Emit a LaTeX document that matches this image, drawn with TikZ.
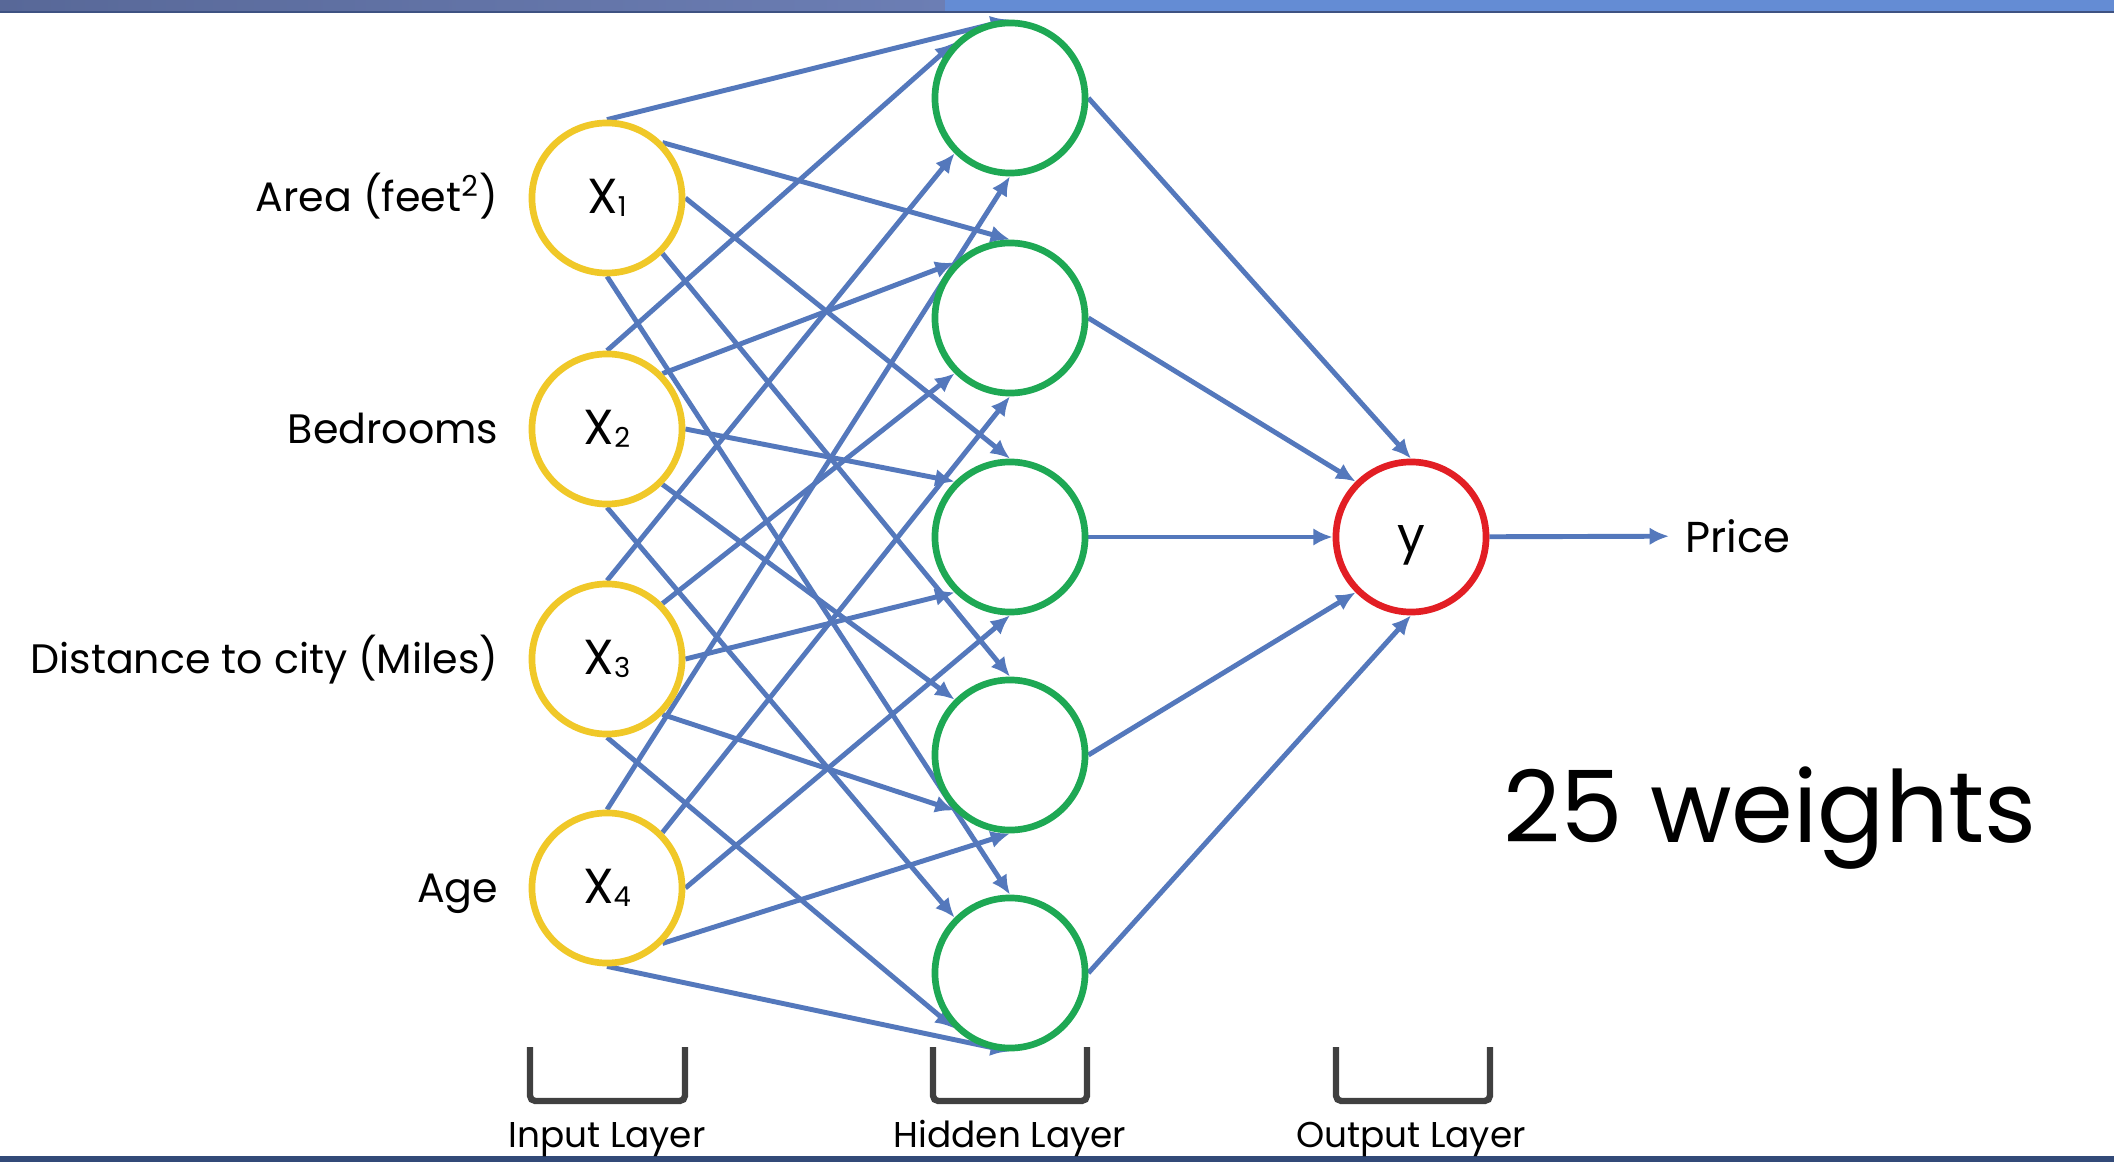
\documentclass[tikz,border=0pt]{standalone}
\usepackage{fontspec}
\setmainfont{Poppins}
\usetikzlibrary{arrows.meta}

\definecolor{edgeblue}{RGB}{84,120,188}
\definecolor{inyellow}{RGB}{240,200,40}
\definecolor{hidgreen}{RGB}{30,168,84}
\definecolor{outred}{RGB}{226,30,36}
\definecolor{brackgray}{RGB}{64,64,64}
\definecolor{barleftA}{RGB}{88,104,152}
\definecolor{barleftB}{RGB}{108,126,180}
\definecolor{barright}{RGB}{100,140,212}
\definecolor{baredge}{RGB}{62,82,130}
\definecolor{rulenavy}{RGB}{50,74,120}

% small digit sitting on the baseline, used for the input indices
\newcommand\neuronidx[1]{\raisebox{-0.7pt}{\fontsize{7.8}{8}\selectfont #1}}

\pgfdeclarelayer{paper}
\pgfdeclarelayer{wires}
\pgfsetlayers{paper,wires,main}

\begin{document}
\begin{tikzpicture}[x=0.01cm,y=-0.01cm,
  neuron/.style={circle,draw,line width=1.9pt,fill=white,minimum size=1.5cm,
                 inner sep=0pt,font=\fontsize{14}{16}\selectfont},
  inneuron/.style={neuron,draw=inyellow},
  hidneuron/.style={neuron,draw=hidgreen},
  outneuron/.style={neuron,draw=outred},
  edge/.style={draw=edgeblue,line width=1.4pt,-{Latex[length=5.5pt,width=5pt]}},
  feature/.style={anchor=base east,inner sep=0pt,font=\fontsize{11.7}{14}\selectfont},
  layerlabel/.style={anchor=base,inner sep=0pt,font=\fontsize{10.2}{12}\selectfont},
  bracket/.style={draw=brackgray,line width=1.8pt,rounded corners=1.5pt}]

\useasboundingbox (0,0) rectangle (2114,1176);

\begin{pgfonlayer}{paper}
  \fill[white] (0,0) rectangle (2114,1176);
  % title bar along the top edge
  \shade[left color=barleftA,right color=barleftB] (0,0) rectangle (945,12);
  \fill[barright] (945,0) rectangle (2114,12);
  \draw[baredge,line width=0.7pt] (0,12) -- (2114,12);
  % footer rule
  \fill[rulenavy] (0,1156) rectangle (2114,1162);
\end{pgfonlayer}

% input layer
\node[inneuron] (x1) at (607,198) {X\neuronidx{1}};
\node[inneuron] (x2) at (607,429) {X\neuronidx{2}};
\node[inneuron] (x3) at (607,659) {X\neuronidx{3}};
\node[inneuron] (x4) at (607,888) {X\neuronidx{4}};

% hidden layer
\node[hidneuron] (h1) at (1010,98) {};
\node[hidneuron] (h2) at (1010,318) {};
\node[hidneuron] (h3) at (1010,537) {};
\node[hidneuron] (h4) at (1010,755) {};
\node[hidneuron] (h5) at (1010,973) {};

% output layer (the glyph is centred on the circle by hand)
\node[outneuron] (y) at (1411,537) {\raisebox{-4.4pt}[0pt][0pt]{y}};
\node[anchor=west,inner sep=0pt,inner xsep=0.16cm,font=\fontsize{12.3}{14}\selectfont]
  (price) at (1669,536) {Price};

% feature names
\node[feature] (f1) at (499,212) {Area (feet\textsuperscript{2})};
\node[feature] (f2) at (499,443) {Bedrooms};
\node[feature] (f3) at (499,673) {Distance to city (Miles)};
\node[feature] (f4) at (499,902) {Age};

% weight count
\node[anchor=base west,inner sep=0pt,font=\fontsize{28.3}{32}\selectfont]
  (count) at (1503,842) {25 weights};

% layer captions with their brackets
\node[layerlabel] (lin)  at (607,1147)  {Input Layer};
\node[layerlabel] (lhid) at (1010,1147) {Hidden Layer};
\node[layerlabel] (lout) at (1411,1147) {Output Layer};
\draw[bracket] (530,1047) -- (530,1101) -- (685,1101) -- (685,1047);
\draw[bracket] (933,1047) -- (933,1101) -- (1087,1101) -- (1087,1047);
\draw[bracket] (1336,1047) -- (1336,1101) -- (1490,1101) -- (1490,1047);

% connections, kept under the circles
\begin{pgfonlayer}{wires}
  \foreach \j/\sa in {1/90,2/45,3/0,4/-45,5/-90}{
    \foreach \i/\da in {1/90,2/135,3/225,4/270}{
      \draw[edge] (x\i.\sa) -- (h\j.\da);
    }
  }
  \foreach \j/\da in {1/90,2/135,3/180,4/225,5/270}{
    \draw[edge] (h\j.0) -- (y.\da);
  }
  \draw[edge] (y) -- (price);
\end{pgfonlayer}

\end{tikzpicture}
\end{document}
